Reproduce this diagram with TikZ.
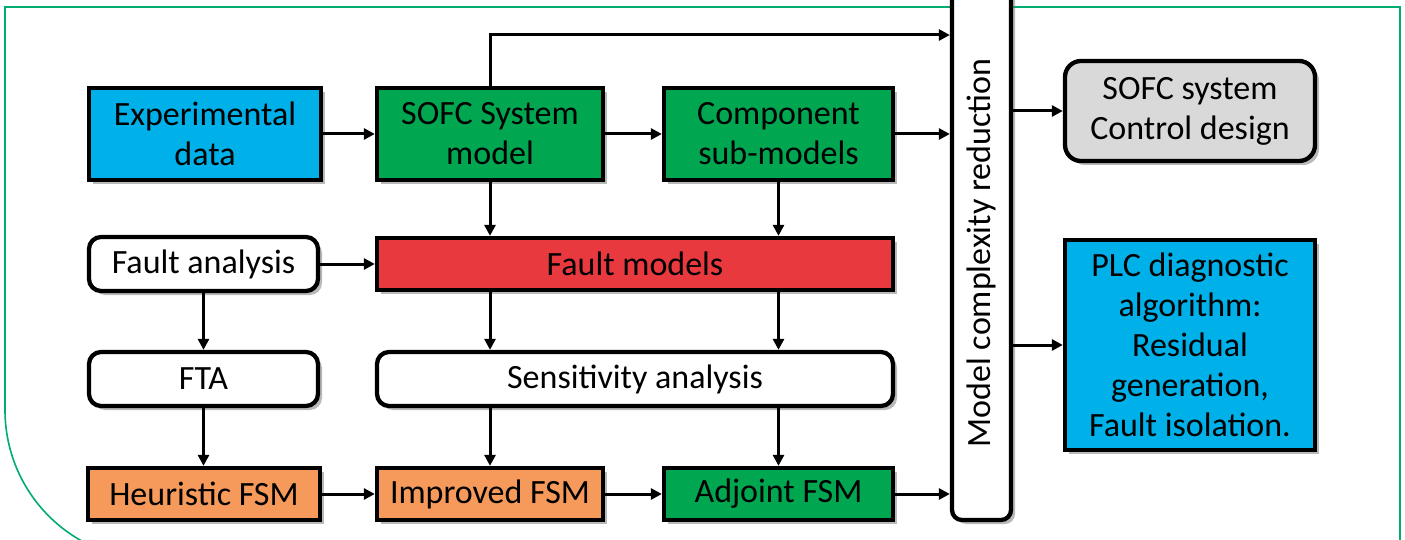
\documentclass[tikz,border=0pt]{standalone}
\usepackage{fontspec}
\setmainfont{Carlito}
\usetikzlibrary{shadows,arrows.meta}
\definecolor{cblue}{RGB}{0,176,232}
\definecolor{cgreen}{RGB}{0,166,80}
\definecolor{cred}{RGB}{232,57,63}
\definecolor{corange}{RGB}{245,154,91}
\definecolor{cgray}{RGB}{217,217,217}
\definecolor{cframe}{RGB}{0,172,110}
\tikzset{
  blk/.style={draw=black, line width=4.3pt, align=center, inner sep=0pt,
    font=\fontsize{34}{40}\selectfont,
    drop shadow={shadow xshift=4pt, shadow yshift=-4pt, fill=black!55, opacity=0.5}},
  rblk/.style={blk, rounded corners=12pt},
  arr/.style={line width=3pt, -{Triangle[length=11pt,width=11pt]}},
  frame/.style={draw=cframe, line width=1.6pt}
}
\begin{document}
\begin{tikzpicture}[x=1pt,y=-1pt]
\useasboundingbox (0,0) rectangle (1405,540);
\clip (0,0) rectangle (1405,540);
\draw[frame] (1400,545) -- (1400,7) -- (5,7) -- (5,410) .. controls (5,493) and (72,560) .. (155,560);
% row 1
\node[blk, fill=cblue, minimum width=232pt, minimum height=92pt] (exp) at (205,134) {Experimental\\data};
\node[blk, fill=cgreen, minimum width=226pt, minimum height=92pt] (sofc) at (490,134) {SOFC System\\model};
\node[blk, fill=cgreen, minimum width=229pt, minimum height=92pt] (comp) at (778.5,134) {Component\\sub-models};
% row 2
\node[rblk, fill=white, minimum width=229pt, minimum height=54pt] (fa) at (203.5,264) {Fault analysis};
\node[blk, fill=cred, minimum width=516pt, minimum height=52pt] (fm) at (635,264) {Fault models};
% row 3
\node[rblk, fill=white, minimum width=229pt, minimum height=54pt] (fta) at (203.5,379) {FTA};
\node[rblk, fill=white, minimum width=516pt, minimum height=54pt] (sa) at (635,379) {Sensitivity analysis};
% row 4
\node[blk, fill=corange, minimum width=232pt, minimum height=52pt] (heu) at (204,494) {Heuristic FSM};
\node[blk, fill=corange, minimum width=226pt, minimum height=52pt] (imp) at (490,494) {Improved FSM};
\node[blk, fill=cgreen, minimum width=229pt, minimum height=52pt] (adj) at (778.5,494) {Adjoint FSM};
% model complexity reduction
\node[rblk, rounded corners=10pt, fill=white, rotate=90, minimum width=546pt, minimum height=59pt] (mcr) at (981.5,247) {\raisebox{0pt}{}\hspace*{-12pt}Model complexity reduction};
% outputs
\node[rblk, fill=cgray, rounded corners=16pt, minimum width=250pt, minimum height=100pt] (ctrl) at (1190,111) {SOFC system\\Control design};
\node[blk, fill=cblue, minimum width=250pt, minimum height=210pt] (plc) at (1190,345) {PLC diagnostic\\algorithm:\\Residual\\generation,\\Fault isolation.};
% connectors
\coordinate (topy) at (0,35);
\draw[arr] (exp.east) -- (sofc.west);
\draw[arr] (sofc.east) -- (comp.west);
\draw[arr] (comp.east) -- (comp.east -| mcr.north);
\draw[arr] (sofc.north) |- (topy -| mcr.north);
\draw[arr] (sofc.south) -- (sofc.south |- fm.north);
\draw[arr] (comp.south) -- (comp.south |- fm.north);
\draw[arr] (fa.east) -- (fa.east -| fm.west);
\draw[arr] (fa.south) -- (fta.north);
\draw[arr] (fta.south) -- (fta.south |- heu.north);
\draw[arr] (sofc.south |- fm.south) -- (sofc.south |- sa.north);
\draw[arr] (comp.south |- fm.south) -- (comp.south |- sa.north);
\draw[arr] (imp.north |- sa.south) -- (imp.north);
\draw[arr] (adj.north |- sa.south) -- (adj.north);
\draw[arr] (heu.east) -- (heu.east -| imp.west);
\draw[arr] (imp.east) -- (adj.west);
\draw[arr] (adj.east) -- (adj.east -| mcr.north);
\draw[arr] (ctrl.west -| mcr.south) -- (ctrl.west);
\draw[arr] (plc.west -| mcr.south) -- (plc.west);
\end{tikzpicture}
\end{document}
